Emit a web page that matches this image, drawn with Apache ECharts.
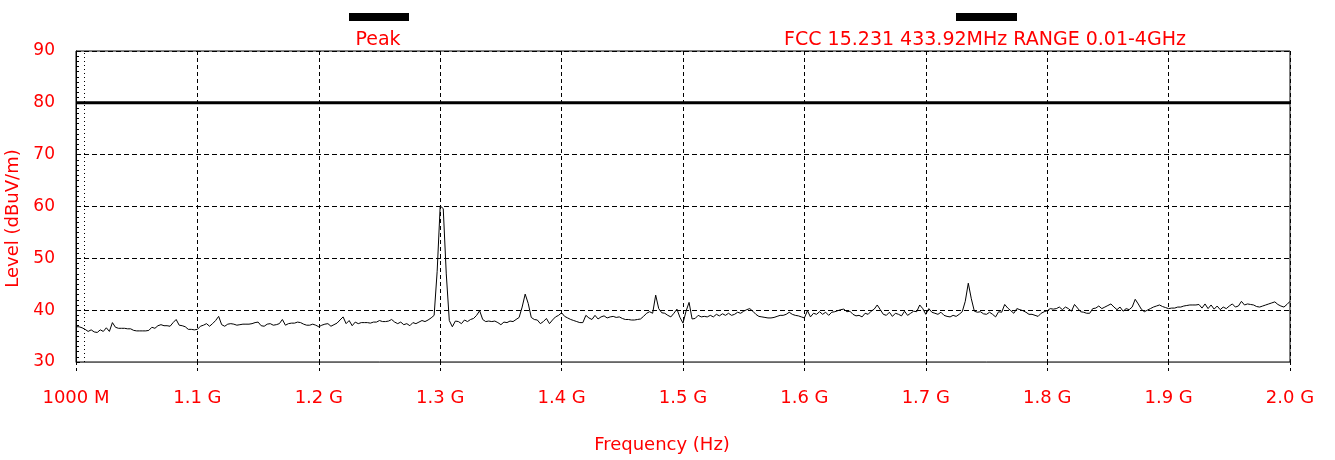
<!DOCTYPE html>
<html>
<head>
<meta charset="utf-8">
<title>Level vs Frequency</title>
<script src="https://cdn.jsdelivr.net/npm/echarts@6/dist/echarts.min.js"></script>
<style>
  html, body { margin: 0; padding: 0; background: #fff; }
  #chart { width: 1335px; height: 460px; }
</style>
</head>
<body>
<div id="chart"></div>
<script>
// Sweep grid: 1000 MHz .. 2000 MHz in 2.5 MHz steps (401 points)
const sweepStartMHz = 1000;
const sweepStepMHz = 2.5;

// Peak detector trace, dBuV/m
const peakLevels = [
  36.8, 36.8, 36.6, 36.3, 35.9, 36.2, 35.8, 35.7, 36.2, 35.9, 36.6, 35.9, 37.6, 36.7, 36.5, 36.5, 36.5, 36.4, 36.4, 36.1,
  36.0, 36.0, 36.0, 36.0, 36.1, 36.7, 36.5, 37.0, 37.2, 37.0, 37.0, 36.9, 37.6, 38.2, 37.1, 37.0, 36.8, 36.3, 36.3, 36.2,
  36.3, 36.9, 37.1, 37.4, 36.9, 37.4, 38.0, 38.8, 37.2, 36.9, 37.3, 37.4, 37.3, 37.1, 37.2, 37.3, 37.3, 37.3, 37.4, 37.6,
  37.7, 37.0, 36.9, 37.3, 37.4, 37.1, 37.2, 37.4, 38.2, 37.1, 37.4, 37.5, 37.5, 37.7, 37.6, 37.3, 37.1, 37.1, 37.3, 37.1,
  36.8, 37.1, 37.3, 37.4, 36.9, 37.2, 37.5, 38.1, 38.7, 37.4, 38.0, 37.0, 37.7, 37.4, 37.6, 37.6, 37.6, 37.5, 37.7, 37.7,
  38.0, 37.8, 37.8, 37.9, 38.2, 37.7, 37.4, 37.7, 37.2, 37.4, 37.0, 37.6, 37.4, 37.7, 38.0, 37.8, 38.1, 38.5, 39.0, 47.5,
  60.1, 59.6, 47.0, 38.0, 36.8, 37.9, 37.8, 37.4, 38.1, 37.8, 38.2, 38.4, 39.0, 39.9, 38.2, 37.8, 37.9, 37.8, 37.9, 37.6,
  37.2, 37.7, 37.6, 37.9, 37.8, 38.2, 38.6, 40.6, 43.1, 41.3, 38.6, 38.2, 38.1, 37.4, 37.8, 38.4, 37.4, 38.1, 38.7, 39.0,
  39.5, 38.8, 38.5, 38.2, 38.0, 37.8, 37.6, 37.6, 39.0, 38.5, 38.2, 39.0, 38.3, 38.7, 38.9, 38.5, 38.7, 38.8, 38.6, 38.7,
  38.4, 38.2, 38.2, 38.1, 38.1, 38.2, 38.3, 38.8, 39.4, 39.7, 39.4, 42.9, 40.3, 39.5, 39.4, 39.0, 38.7, 39.4, 40.2, 38.6,
  37.5, 39.8, 41.5, 38.3, 38.4, 39.0, 38.7, 38.8, 38.7, 39.0, 38.7, 39.2, 38.9, 39.3, 39.0, 39.4, 39.0, 39.2, 39.6, 39.4,
  39.8, 40.1, 40.3, 39.8, 39.2, 38.8, 38.7, 38.6, 38.5, 38.5, 38.6, 38.8, 39.0, 39.0, 39.2, 39.6, 39.2, 39.0, 38.9, 38.7,
  38.5, 39.9, 38.7, 39.4, 39.2, 39.7, 39.2, 39.6, 39.0, 39.6, 39.7, 39.9, 40.1, 40.2, 39.7, 39.8, 39.2, 38.9, 39.0, 38.7,
  39.4, 39.2, 39.8, 40.2, 41.0, 40.1, 39.2, 39.0, 39.6, 38.8, 39.4, 39.2, 38.9, 39.8, 39.0, 39.4, 39.8, 39.7, 41.0, 40.3,
  39.2, 40.3, 39.6, 39.4, 39.2, 39.6, 39.0, 38.8, 38.7, 39.0, 38.8, 39.2, 39.7, 41.7, 45.2, 42.2, 39.8, 39.6, 39.7, 39.3,
  39.2, 39.6, 39.2, 38.7, 39.7, 39.6, 41.1, 40.4, 39.9, 39.4, 40.3, 40.1, 39.9, 39.6, 39.2, 39.2, 39.0, 38.8, 39.4, 39.7,
  39.9, 40.3, 40.2, 40.3, 40.6, 40.1, 40.6, 40.3, 39.8, 41.1, 40.4, 39.7, 39.6, 39.4, 39.4, 40.3, 40.4, 40.8, 40.3, 40.6,
  40.9, 41.2, 40.6, 40.1, 40.6, 39.8, 40.3, 40.1, 40.6, 42.1, 41.2, 40.2, 39.7, 40.0, 40.3, 40.6, 40.8, 41.0, 40.7, 40.5,
  40.3, 40.4, 40.4, 40.6, 40.6, 40.8, 40.9, 41.0, 41.0, 41.0, 41.1, 40.4, 41.2, 40.3, 41.0, 40.2, 40.8, 40.1, 40.6, 40.3,
  40.8, 41.2, 40.6, 40.8, 41.7, 41.0, 41.2, 41.1, 41.0, 40.7, 40.6, 40.8, 41.0, 41.2, 41.4, 41.6, 41.1, 40.8, 40.6, 41.1,
  41.7
];

// FCC 15.231 limit line
const limitName = 'FCC 15.231 433.92MHz RANGE 0.01-4GHz';
const limitFreqs = [1000, 2000];
const limitLevels = [80, 80];

// Axis ticks
const xTicks = [1000, 1100, 1200, 1300, 1400, 1500, 1600, 1700, 1800, 1900, 2000];
const xTickLabels = ['1000 M', '1.1 G', '1.2 G', '1.3 G', '1.4 G', '1.5 G', '1.6 G', '1.7 G', '1.8 G', '1.9 G', '2.0 G'];
const yTicks = [30, 40, 50, 60, 70, 80, 90];

// Dotted marker just after the sweep start
const startMarkerMHz = 1007;

const FONT = 'DejaVu Sans';
const RED = '#ff0000';

const peakData = peakLevels.map((v, i) => [sweepStartMHz + i * sweepStepMHz, v]);
const limitData = limitFreqs.map((f, i) => [f, limitLevels[i]]);

const chart = echarts.init(document.getElementById('chart'), null, { renderer: 'canvas' });

chart.setOption({
  animation: false,
  backgroundColor: '#fff',
  textStyle: { fontFamily: FONT },
  grid: {
    left: 76, right: 45, top: 51, bottom: 98,
    outerBoundsMode: 'none', containLabel: false,
    show: true, borderColor: '#000', borderWidth: 1, backgroundColor: 'transparent'
  },
  legend: [
    {
      data: ['Peak'], left: 344, top: 8, icon: 'rect',
      itemWidth: 60, itemHeight: 8, selectedMode: false,
      formatter: () => '', textStyle: { fontSize: 6 }
    },
    {
      data: [limitName], left: 951, top: 8, icon: 'rect',
      itemWidth: 61, itemHeight: 8, selectedMode: false,
      formatter: () => '', textStyle: { fontSize: 6 }
    }
  ],
  graphic: [
    {
      type: 'text', x: 378, y: 40, silent: true,
      style: { text: 'Peak', fill: RED, font: '19px "' + FONT + '"', textAlign: 'center', textVerticalAlign: 'middle' }
    },
    {
      type: 'text', x: 985, y: 40, silent: true,
      style: { text: limitName, fill: RED, font: '19px "' + FONT + '"', textAlign: 'center', textVerticalAlign: 'middle' }
    }
  ],
  xAxis: {
    type: 'value',
    min: xTicks[0], max: xTicks[xTicks.length - 1], interval: 100,
    axisLine: { show: true, onZero: false, lineStyle: { color: '#666', width: 1 } },
    axisTick: { show: true, length: 10, lineStyle: { color: '#000', type: [3, 3] } },
    axisLabel: {
      color: RED, fontSize: 18, fontFamily: FONT, margin: 27,
      formatter: v => { const k = xTicks.indexOf(Math.round(v)); return k >= 0 ? xTickLabels[k] : ''; }
    },
    splitLine: { show: true, lineStyle: { color: '#000', width: 1, type: [4, 3] } },
    name: 'Frequency (Hz)', nameLocation: 'middle', nameGap: 74,
    nameTextStyle: { color: RED, fontSize: 18, fontFamily: FONT, padding: [0, 42, 0, 0] }
  },
  yAxis: {
    type: 'value',
    min: yTicks[0], max: yTicks[yTicks.length - 1], interval: 10,
    axisLine: { show: true, lineStyle: { color: '#000', width: 1 } },
    axisTick: { show: true, inside: true, length: 4, lineStyle: { color: '#000' } },
    minorTick: { show: true, splitNumber: 10, length: 3, lineStyle: { color: '#000' } },
    axisLabel: { color: RED, fontSize: 17, fontFamily: FONT, margin: 21 },
    splitLine: { show: true, lineStyle: { color: '#000', width: 1, type: [5, 3] } },
    name: 'Level (dBuV/m)', nameLocation: 'middle', nameGap: 50,
    nameTextStyle: { color: RED, fontSize: 18, fontFamily: FONT, padding: [0, 24, 0, 0] }
  },
  series: [
    {
      name: 'Peak', type: 'line', data: peakData,
      symbol: 'none', showSymbol: false, silent: true, z: 4,
      lineStyle: { color: '#000', width: 1 }, itemStyle: { color: '#000' },
      markLine: {
        silent: true, symbol: 'none', label: { show: false },
        lineStyle: { color: '#000', width: 1, type: [1, 3] },
        data: [{ xAxis: startMarkerMHz }]
      }
    },
    {
      name: limitName, type: 'line', data: limitData,
      symbol: 'none', showSymbol: false, silent: true, z: 3,
      lineStyle: { color: '#000', width: 3 }, itemStyle: { color: '#000' }
    }
  ]
});
</script>
</body>
</html>
